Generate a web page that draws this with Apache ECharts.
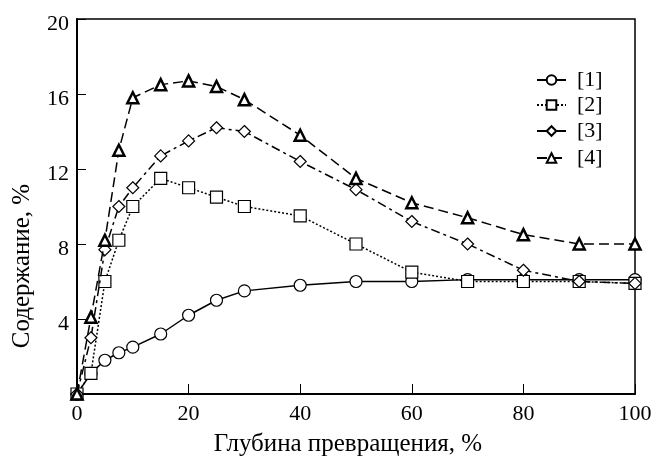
<!DOCTYPE html>
<html><head><meta charset="utf-8">
<script src="https://cdn.jsdelivr.net/npm/echarts@6/dist/echarts.min.js"></script>
<style>html,body{margin:0;padding:0;background:#fff}#c{width:656px;height:457px}</style>
</head><body><div id="c"></div>
<script>
const xTicks = [0, 20, 40, 60, 80, 100];
const yTicks = [4, 8, 12, 16, 20];
const xAxisTitle = 'Глубина превращения, %';
const yAxisTitle = 'Содержание, %';
const seriesNames = ['[1]', '[2]', '[3]', '[4]'];
const depth = [0, 2.5, 5, 7.5, 10, 15, 20, 25, 30, 40, 50, 60, 70, 80, 90, 100];
const s1 = [0, 1.1, 1.8, 2.2, 2.5, 3.2, 4.2, 5.0, 5.5, 5.8, 6.0, 6.0, 6.1, 6.1, 6.1, 6.1];
const s2 = [0, 1.1, 6.0, 8.2, 10.0, 11.5, 11.0, 10.5, 10.0, 9.5, 8.0, 6.5, 6.0, 6.0, 6.0, 5.9];
const s3 = [0, 3.0, 7.7, 10.0, 11.0, 12.7, 13.5, 14.2, 14.0, 12.4, 10.9, 9.2, 8.0, 6.6, 6.0, 5.9];
const s4 = [0, 4.1, 8.2, 13.0, 15.8, 16.5, 16.7, 16.4, 15.7, 13.8, 11.5, 10.2, 9.4, 8.5, 8.0, 8.0];

const font = 'Liberation Serif, Times New Roman, serif';
const pair = arr => depth.map((x, i) => [x, arr[i]]);
const styles = [
  {data: s1, symbol: 'circle', size: 12, dash: 'solid', bw: 1.2},
  {data: s2, symbol: 'rect', size: 12, dash: [2, 2], bw: 1.2},
  {data: s3, symbol: 'diamond', size: 12, dash: [9, 4, 3, 4], bw: 1.2},
  {data: s4, symbol: 'triangle', size: 11, dash: [10, 5], bw: 2.5}
];
const legendTops = [64, 89, 115, 142];
const chart = echarts.init(document.getElementById('c'));
chart.setOption({
  animation: false,
  backgroundColor: '#fff',
  grid: {left: 77, right: 21, top: 19, bottom: 63, show: true, borderColor: '#000', borderWidth: 1.5},
  legend: seriesNames.map((n, i) => ({
    data: [n], left: 531, top: legendTops[i], itemWidth: 29, itemHeight: 12, itemGap: 0,
    textStyle: {fontFamily: font, fontSize: 22, color: '#000', padding: [0, 0, 0, 6]}
  })),
  graphic: [
    {type: 'text', x: 348, y: 444, z: 10,
      style: {text: xAxisTitle, font: '25px ' + font, fill: '#000', align: 'center', verticalAlign: 'middle'}},
    {type: 'text', x: 22, y: 266, rotation: Math.PI / 2, z: 10,
      style: {text: yAxisTitle, font: '25px ' + font, fill: '#000', align: 'center', verticalAlign: 'middle'}}
  ],
  xAxis: {
    type: 'value', min: 0, max: 100, interval: 20,
    axisLine: {lineStyle: {color: '#000', width: 2}},
    axisTick: {inside: true, length: 10, lineStyle: {color: '#000', width: 1}},
    axisLabel: {fontFamily: font, fontSize: 22, color: '#000', margin: 9},
    splitLine: {show: false}
  },
  yAxis: {
    type: 'value', min: 0, max: 20, interval: 4,
    axisLine: {lineStyle: {color: '#000', width: 2}},
    axisTick: {inside: true, length: 9, lineStyle: {color: '#000', width: 1}},
    axisLabel: {color: '#000', margin: 8,
      formatter: v => (yTicks.includes(v) ? '{t|' + v + '}' : ''),
      rich: {t: {fontFamily: font, fontSize: 22, color: '#000', padding: [11, 0, 0, 0]}}},
    splitLine: {show: false}
  },
  series: styles.map((s, i) => ({
    name: seriesNames[i], type: 'line', data: pair(s.data),
    symbol: s.symbol, symbolSize: s.size, showAllSymbol: true,
    lineStyle: {color: '#000', width: 1.5, type: s.dash},
    itemStyle: {color: '#fff', borderColor: '#000', borderWidth: s.bw},
    z: 2 + i
  }))
});
</script></body></html>
